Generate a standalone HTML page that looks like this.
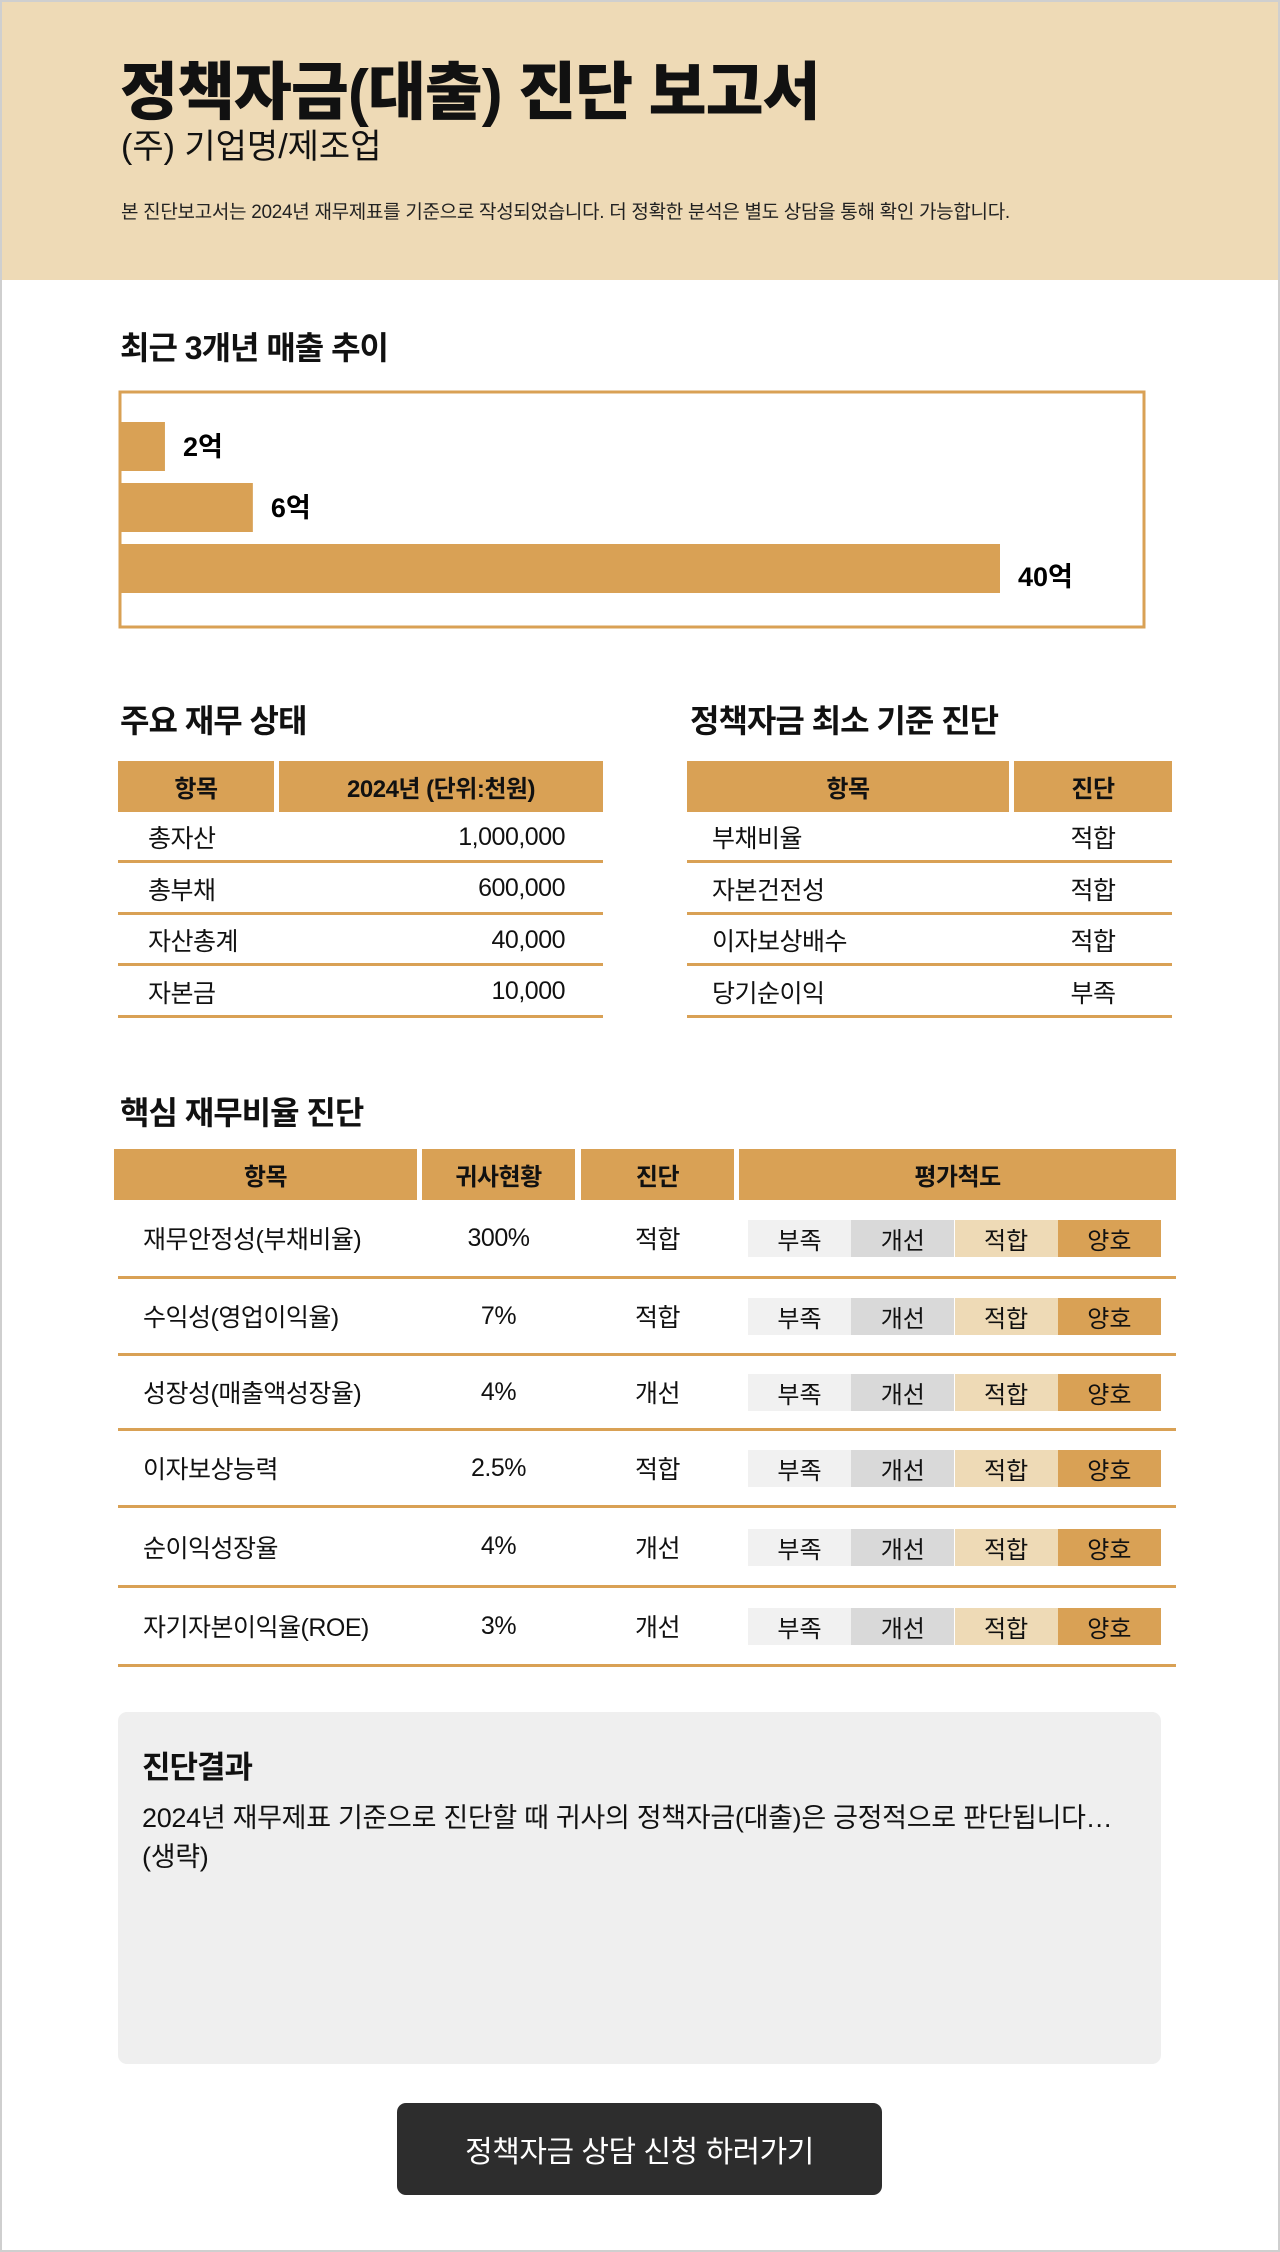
<!DOCTYPE html>
<html lang="ko"><head><meta charset="utf-8">
<style>
*{margin:0;padding:0;box-sizing:border-box}
body{width:1280px;height:2252px;position:relative;background:#fff;font-family:"Liberation Sans","Noto Sans CJK KR",sans-serif;color:#111;overflow:hidden}
.frame{position:absolute;left:0;top:0;width:1280px;height:2252px;border:2px solid #cfcfcf;pointer-events:none}
.abs{position:absolute}
.header{left:0;top:0;width:1280px;height:280px;background:#eedab6}
h1{position:absolute;left:120px;top:56px;font-size:63px;font-weight:900;letter-spacing:-1px;line-height:74px}
.sub{left:121px;top:126px;font-size:34px;line-height:42px;letter-spacing:0}
.note{left:121px;top:200px;font-size:19px;line-height:26px;letter-spacing:-0.3px;color:#222}
.sec{font-size:32px;font-weight:700;letter-spacing:-1px;line-height:40px}
.th{position:absolute;background:#d9a155;font-weight:700;font-size:24px;display:flex;align-items:center;justify-content:center;letter-spacing:-0.5px}
.cell{position:absolute;font-size:25px;display:flex;align-items:center;letter-spacing:-0.5px}
.line{position:absolute;height:3px;background:#d9a155}
.sc{position:absolute;height:37px;width:103px;display:flex;align-items:center;justify-content:center;font-size:24px}
</style></head><body>
<div class="abs header">
<h1>정책자금(대출) 진단 보고서</h1>
<div class="abs sub">(주) 기업명/제조업</div>
<div class="abs note">본 진단보고서는 2024년 재무제표를 기준으로 작성되었습니다. 더 정확한 분석은 별도 상담을 통해 확인 가능합니다.</div>
</div>

<div class="abs sec" style="left:120px;top:328px">최근 3개년 매출 추이</div>
<svg id="chart" class="abs" style="left:0;top:0" width="1280" height="700">
<rect x="120" y="392" width="1024" height="235" fill="none" stroke="#d9a155" stroke-width="3"/>
</svg>

<div class="abs sec" style="left:120px;top:701px">주요 재무 상태</div>
<div class="abs sec" style="left:690px;top:701px">정책자금 최소 기준 진단</div>
<div id="tables"></div>

<div class="abs sec" style="left:120px;top:1093px">핵심 재무비율 진단</div>
<div id="core"></div>

<div class="abs" style="left:118px;top:1712px;width:1043px;height:352px;background:#efefef;border-radius:9px">
<div class="abs" style="left:24px;top:30px;font-size:31px;font-weight:700;letter-spacing:-1px">진단결과</div>
<div class="abs" style="left:24px;top:87px;font-size:27px;line-height:39px;letter-spacing:-0.3px;width:1010px">2024년 재무제표 기준으로 진단할 때 귀사의 정책자금(대출)은 긍정적으로 판단됩니다…<br>(생략)</div>
</div>
<div class="abs" style="left:397px;top:2103px;width:485px;height:92px;background:#2d2d2d;border-radius:9px;color:#fff;font-size:30px;display:flex;align-items:center;justify-content:center;letter-spacing:-0.5px">정책자금 상담 신청 하러가기</div>
<div class="frame"></div>

<script>
const years = ["2022", "2023", "2024"];
const salesValues = [2, 6, 40];
const salesLabels = ["2억", "6억", "40억"];

const NS = "http://www.w3.org/2000/svg";
const svg = document.getElementById("chart");
const x0 = 121, xMax = 40, xW = 879;
function xScale(v){ return v / xMax * xW; }
function yBand(i){ return 422 + i * 61; }
salesValues.forEach((v, i) => {
  const r = document.createElementNS(NS, "rect");
  r.setAttribute("x", x0); r.setAttribute("y", yBand(i));
  r.setAttribute("width", xScale(v)); r.setAttribute("height", 49);
  r.setAttribute("fill", "#d9a155");
  
  
  svg.appendChild(r);
  const t = document.createElementNS(NS, "text");
  t.setAttribute("x", x0 + xScale(v) + 18); t.setAttribute("y", yBand(i) + (i === 2 ? 42 : 34));
  t.setAttribute("font-size", "27"); t.setAttribute("font-weight", "700");
  t.setAttribute("font-family", '"Liberation Sans","Noto Sans CJK KR",sans-serif');
  t.textContent = salesLabels[i];
  
  
  svg.appendChild(t);
});

function el(parent, cls, style, text, name){
  const d = document.createElement("div");
  d.className = cls; d.style.cssText = style; if (text !== null) d.textContent = text;
  
  
  parent.appendChild(d); return d;
}
const tb = document.getElementById("tables");
el(tb,"th","left:118px;top:761px;width:156px;height:51px","항목","status-header-item");
el(tb,"th","left:279px;top:761px;width:324px;height:51px","2024년 (단위:천원)","status-header-value");
const st = [["총자산","1,000,000"],["총부채","600,000"],["자산총계","40,000"],["자본금","10,000"]];
st.forEach((r,i)=>{
  const top = 812 + i*51.5;
  el(tb,"cell",`left:148px;top:${top}px;height:50px`,r[0],"status-row-label");
  el(tb,"cell",`left:279px;top:${top}px;height:50px;width:286px;justify-content:flex-end`,r[1],"status-row-value");
  el(tb,"line",`left:118px;top:${top+48}px;width:485px`,null,"status-row-divider");
});
el(tb,"th","left:687px;top:761px;width:322px;height:51px","항목","criteria-header-item");
el(tb,"th","left:1014px;top:761px;width:158px;height:51px","진단","criteria-header-result");
const cr = [["부채비율","적합"],["자본건전성","적합"],["이자보상배수","적합"],["당기순이익","부족"]];
cr.forEach((r,i)=>{
  const top = 812 + i*51.5;
  el(tb,"cell",`left:712px;top:${top}px;height:50px`,r[0],"criteria-row-label");
  el(tb,"cell",`left:1014px;top:${top}px;height:50px;width:158px;justify-content:center`,r[1],"criteria-row-result");
  el(tb,"line",`left:687px;top:${top+48}px;width:485px`,null,"criteria-row-divider");
});

const core = document.getElementById("core");
el(core,"th","left:114px;top:1149px;width:303px;height:51px","항목","core-header-item");
el(core,"th","left:422px;top:1149px;width:153px;height:51px","귀사현황","core-header-value");
el(core,"th","left:581px;top:1149px;width:153px;height:51px","진단","core-header-result");
el(core,"th","left:739px;top:1149px;width:437px;height:51px","평가척도","core-header-scale");
const rows = [["재무안정성(부채비율)","300%","적합"],["수익성(영업이익율)","7%","적합"],["성장성(매출액성장율)","4%","개선"],["이자보상능력","2.5%","적합"],["순이익성장율","4%","개선"],["자기자본이익율(ROE)","3%","개선"]];
const lines = [1276,1353,1428,1505,1585,1664];
const scale = [["부족","#f1f1f1"],["개선","#d9d9d9"],["적합","#eedab6"],["양호","#d9a155"]];
rows.forEach((r,i)=>{
  const prev = i===0 ? 1200 : lines[i-1]+3;
  const mid = (prev + lines[i]) / 2;
  el(core,"cell",`left:143px;top:${mid-25}px;height:50px`,r[0],"core-row-label");
  el(core,"cell",`left:422px;top:${mid-25}px;height:50px;width:153px;justify-content:center`,r[1],"core-row-value");
  el(core,"cell",`left:581px;top:${mid-25}px;height:50px;width:153px;justify-content:center`,r[2],"core-row-result");
  scale.forEach((s,j)=>{
    el(core,"sc",`left:${748+j*103.3}px;top:${mid-18}px;background:${s[1]}`,s[0],"scale-"+s[0]);
  });
  el(core,"line",`left:118px;top:${lines[i]}px;width:1058px`,null,"core-row-divider");
});
</script>
</body></html>
